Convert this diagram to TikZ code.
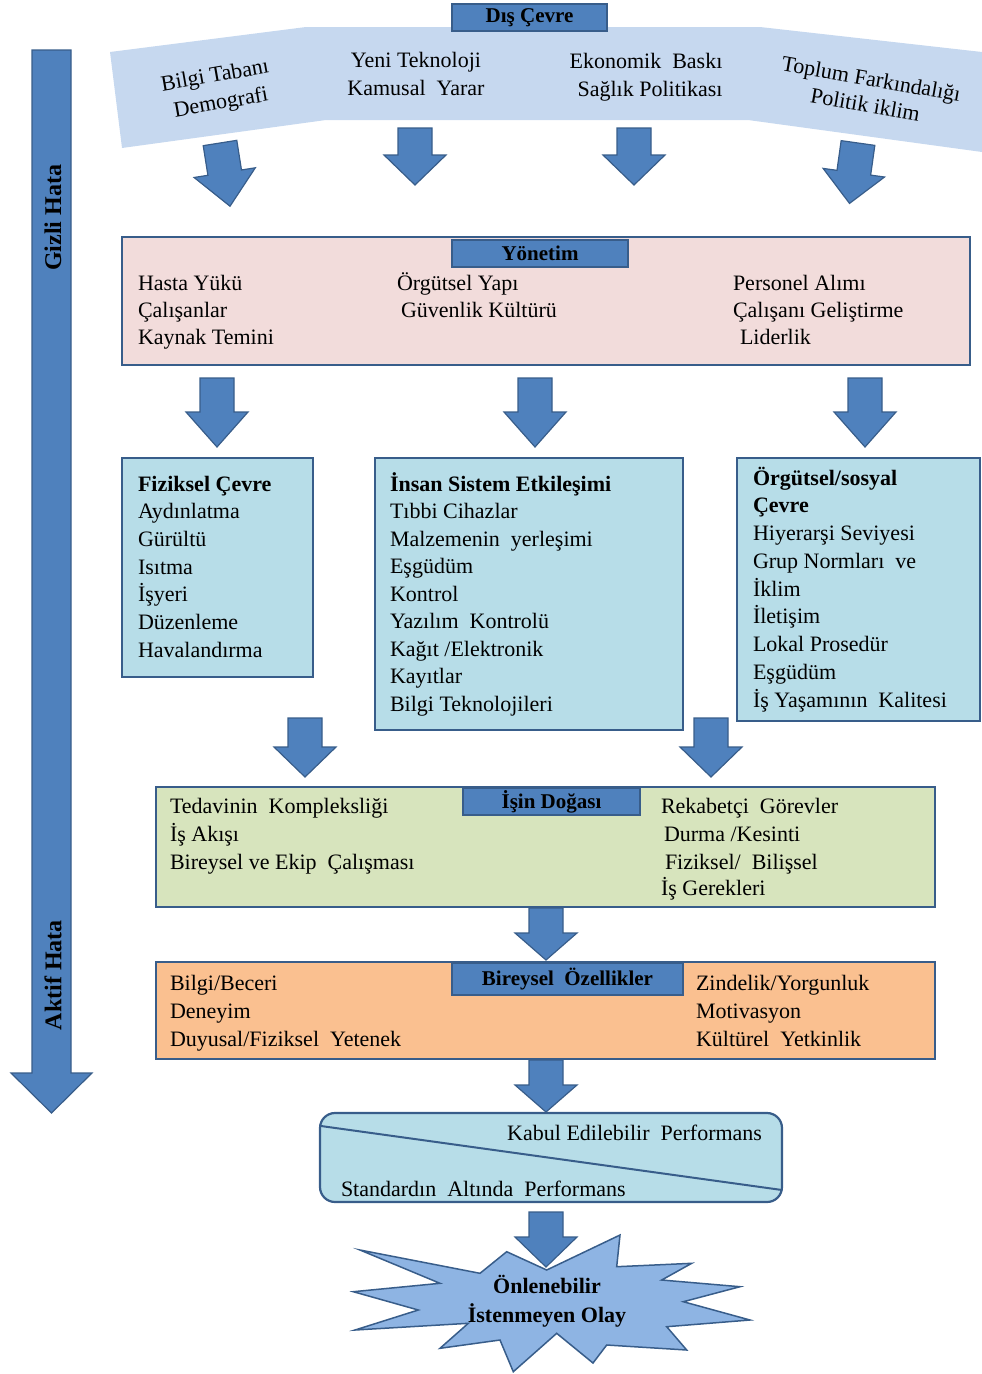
\documentclass[tikz,border=0pt]{standalone}
\usepackage{fontspec}
\setmainfont{Liberation Serif}
\definecolor{midblue}{HTML}{4F81BD}
\definecolor{dkblue}{HTML}{385D8A}
\definecolor{banner}{HTML}{C6D8EF}
\definecolor{pinkf}{HTML}{F2DCDB}
\definecolor{cyanf}{HTML}{B7DDE8}
\definecolor{greenf}{HTML}{D7E4BD}
\definecolor{orangef}{HTML}{FAC090}
\definecolor{starf}{HTML}{8EB4E3}
\newcommand\BArr[5]{\begin{scope}[shift={(#1,#2)},rotate=#3]\draw[barr] (-17,0)--(17,0)--(17,#4)--(31,#4)--(0,#5)--(-31,#4)--(-17,#4)--cycle;\end{scope}}
\begin{document}
\begin{tikzpicture}[x=1pt,y=-1pt,
  every node/.style={inner sep=0pt,outer sep=0pt},
  txt/.style={font=\fontsize{22}{27}\selectfont,anchor=base west},
  hd/.style={font=\fontsize{22}{27}\selectfont\bfseries,anchor=base west},
  ctxt/.style={font=\fontsize{22}{27}\selectfont,anchor=base},
  box/.style={draw=dkblue,line width=2.2pt,anchor=north west},
  ttl/.style={draw=dkblue,fill=midblue,line width=1.8pt,anchor=north west},
  ttlt/.style={font=\fontsize{21}{27}\selectfont\bfseries},
  barr/.style={draw=dkblue,fill=midblue,line width=1.2pt,line join=miter}]
\useasboundingbox (0,0) rectangle (982,1374);

% left big arrow
\draw[barr] (32,50)--(71,50)--(71,1073)--(92,1073)--(51.5,1113)--(11,1073)--(32,1073)--cycle;
\node[font=\fontsize{24}{27}\selectfont\bfseries,rotate=90] (gizli) at (53,218) {Gizli Hata};
\node[font=\fontsize{24}{27}\selectfont\bfseries,rotate=90] (aktif) at (53,975) {Aktif Hata};

% banner
\fill[banner] (110,52)--(306,27)--(760,27)--(982,52)--(982,152)--(748,120)--(326,120)--(122,148)--cycle;
\node[ttl,minimum width=155,minimum height=27] (dis) at (452,4) {};
\node[ttlt] (dist) at (dis.center) {Dış Çevre};
\node[ctxt,rotate=10] (b1a) at (216,82) {Bilgi Tabanı};
\node[ctxt,rotate=10] (b1b) at (222,109) {Demografi};
\node[ctxt] (b2a) at (416,67) {Yeni Teknoloji};
\node[ctxt] (b2b) at (416,95) {Kamusal\ \ Yarar};
\node[ctxt] (b3a) at (646,68) {Ekonomik\ \ Baskı};
\node[ctxt] (b3b) at (650,96) {Sağlık Politikası};
\node[ctxt,rotate=-10] (b4a) at (870,86) {Toplum Farkındalığı};
\node[ctxt,rotate=-10] (b4b) at (864,112) {Politik iklim};

% top arrows
\BArr{220}{143}{9}{30}{64}
\BArr{415}{128}{0}{27}{57}
\BArr{634}{128}{0}{27}{57}
\BArr{858}{143}{-8}{30}{61}

% Yonetim
\node[box,fill=pinkf,minimum width=848,minimum height=128] (yon) at (122,237) {};
\node[ttl,minimum width=176,minimum height=27] (yont) at (452,240) {};
\node[ttlt] (yontt) at (yont.center) {Yönetim};
\foreach \t [count=\i from 0] in {Hasta Yükü,Çalışanlar,Kaynak Temini}
  \node[txt] (ya\i) at (138,{290+27*\i}) {\t};
\node[txt] (yb0) at (397,290) {Örgütsel Yapı};
\node[txt] (yb1) at (401,317) {Güvenlik Kültürü};
\node[txt] (yc0) at (733,290) {Personel Alımı};
\node[txt] (yc1) at (733,317) {Çalışanı Geliştirme};
\node[txt] (yc2) at (740,344) {Liderlik};

\BArr{217}{378}{0}{34}{69}
\BArr{535}{378}{0}{34}{69}
\BArr{865}{378}{0}{34}{69}

% three boxes
\node[box,fill=cyanf,minimum width=191,minimum height=219] (fiz) at (122,458) {};
\node[hd] (f0) at (138,491) {Fiziksel Çevre};
\foreach \t [count=\i from 1] in {Aydınlatma,Gürültü,Isıtma,İşyeri,Düzenleme,Havalandırma}
  \node[txt] (f\i) at (138,{491+27.7*\i}) {\t};

\node[box,fill=cyanf,minimum width=308,minimum height=272] (ins) at (375,458) {};
\node[hd] (i0) at (390,491) {İnsan Sistem Etkileşimi};
\foreach \t [count=\i from 1] in {Tıbbi Cihazlar,Malzemenin\ \ yerleşimi,Eşgüdüm,Kontrol,Yazılım\ \ Kontrolü,Kağıt /Elektronik,Kayıtlar,Bilgi Teknolojileri}
  \node[txt] (i\i) at (390,{491+27.5*\i}) {\t};

\node[box,fill=cyanf,minimum width=243,minimum height=263] (org) at (737,458) {};
\node[hd] (o0) at (753,485) {Örgütsel/sosyal};
\node[hd] (o1) at (753,512.75) {Çevre};
\foreach \t [count=\i from 2] in {Hiyerarşi Seviyesi,Grup Normları\ \ ve,İklim,İletişim,Lokal Prosedür,Eşgüdüm,İş Yaşamının\ \ Kalitesi}
  \node[txt] (o\i) at (753,{485+27.75*\i}) {\t};

\BArr{305}{718}{0}{29}{59}
\BArr{711}{718}{0}{29}{59}

% Isin Dogasi
\node[box,fill=greenf,minimum width=779,minimum height=120] (isin) at (156,787) {};
\node[ttl,minimum width=177,minimum height=27] (isint) at (463,788) {};
\node[ttlt] (isintt) at (isint.center) {İşin Doğası};
\node[txt] (ia0) at (170,813) {Tedavinin\ \ Kompleksliği};
\node[txt] (ia1) at (170,841) {İş Akışı};
\node[txt] (ia2) at (170,869) {Bireysel ve Ekip\ \ Çalışması};
\node[txt] (ib0) at (661,813) {Rekabetçi\ \ Görevler};
\node[txt] (ib1) at (664,841) {Durma /Kesinti};
\node[txt] (ib2) at (665,869) {Fiziksel/\ \ Bilişsel};
\node[txt] (ib3) at (661,895) {İş Gerekleri};

\BArr{546}{908}{0}{25}{52}

% Bireysel
\node[box,fill=orangef,minimum width=779,minimum height=97] (bir) at (156,962) {};
\node[ttl,minimum width=231,minimum height=32] (birt) at (452,963) {};
\node[ttlt] (birtt) at (birt.center) {Bireysel\ \ Özellikler};
\foreach \t [count=\i from 0] in {Bilgi/Beceri,Deneyim,Duyusal/Fiziksel\ \ Yetenek}
  \node[txt] (ba\i) at (170,{990+28*\i}) {\t};
\foreach \t [count=\i from 0] in {Zindelik/Yorgunluk,Motivasyon,Kültürel\ \ Yetkinlik}
  \node[txt] (bb\i) at (696,{990+28*\i}) {\t};

\BArr{546}{1060}{0}{25}{52}

% performance box
\node[box,fill=cyanf,rounded corners=15pt,minimum width=462,minimum height=89] (perf) at (320,1113) {};
\draw[dkblue,line width=2pt] (321,1126)--(782,1190);
\node[font=\fontsize{22}{27}\selectfont,anchor=base east] (kabul) at (762,1140) {Kabul Edilebilir\ \ Performans};
\node[txt] (stand) at (341,1196) {Standardın\ \ Altında\ \ Performans};

\BArr{546}{1212}{0}{25}{55}

% star
\draw[fill=starf,draw=dkblue,line width=1.5pt,line join=miter]
 (506.7,1251.7)--(546.7,1270)--(620,1235)--(616.7,1266.7)--(691.7,1263.3)--(661.7,1280)
 --(740,1286.7)--(683.3,1301.7)--(750,1320)--(666.7,1326.7)--(686.7,1350)--(606.7,1345)
 --(593,1363)--(556.7,1333.3)--(513.3,1371.7)--(500,1340)--(440,1348.3)--(468.3,1323.3)
 --(355,1330)--(418.3,1310)--(353.3,1291.7)--(440,1283.3)--(360,1250)--(480,1273.3)--cycle;
\node[font=\fontsize{22}{27}\selectfont\bfseries,anchor=base] (s1) at (547,1293) {Önlenebilir};
\node[font=\fontsize{22}{27}\selectfont\bfseries,anchor=base] (s2) at (547,1322) {İstenmeyen Olay};
\end{tikzpicture}
\end{document}
